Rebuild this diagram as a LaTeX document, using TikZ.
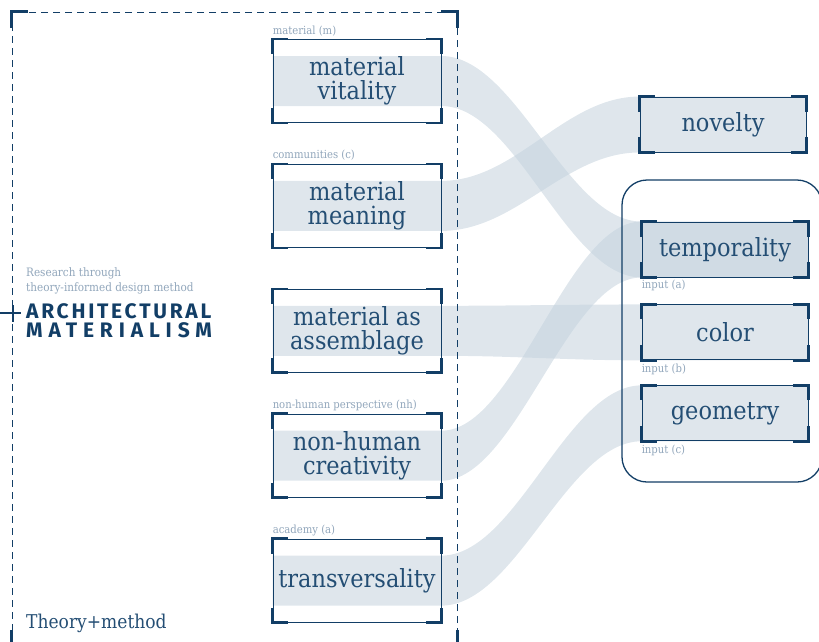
\documentclass[tikz,border=0pt]{standalone}
\usepackage{fontspec}
\newfontfamily\boxfont[FakeStretch=0.9]{DejaVu Serif}
\newfontfamily\headfont[LetterSpace=13]{Fira Sans}
\newfontfamily\headfontwide[LetterSpace=28]{Fira Sans}
\usetikzlibrary{positioning,backgrounds}

\definecolor{navy}{RGB}{18,62,102}
\definecolor{ink}{RGB}{36,78,116}
\definecolor{tagc}{RGB}{145,166,187}
\definecolor{bandc}{RGB}{196,210,221}

% corner marks of a box
\newcommand\brackets[2]{%
	\foreach \anc/\dx/\dy in {north west/1/-1,north east/-1/-1,south west/1/1,south east/-1/1}
		\draw [corner] ([xshift=\dx*#2]#1.\anc) -- (#1.\anc) -- ([yshift=\dy*#2]#1.\anc);}

% band from a concept to an outcome
\newcommand\flow[2]{%
	\fill [band] ([yshift=25pt]#1.west) -- ([yshift=25pt]#1.east)
		.. controls +(75,0) and +(-75,0) .. (#2.north west) -- (#2.north east)
		-- (#2.south east) -- (#2.south west)
		.. controls +(-75,0) and +(75,0) .. ([yshift=-25pt]#1.east)
		-- ([yshift=-25pt]#1.west) -- cycle;}

\begin{document}
\begin{tikzpicture}[x=1pt,y=-1pt,node distance=41pt]

	\tikzstyle{concept} = [rectangle, draw=navy, line width=0.9pt, minimum width=168pt, minimum height=83pt, inner sep=0pt, align=center, text=ink, font=\boxfont\fontsize{25}{24}\selectfont]
	\tikzstyle{outcome} = [concept, minimum width=166pt, minimum height=55pt]
	\tikzstyle{tag} = [anchor=base west, inner sep=0pt, text=tagc, font=\boxfont\fontsize{11.2}{12}\selectfont]
	\tikzstyle{corner} = [draw=navy, line width=2.6pt]
	\tikzstyle{band} = [fill=bandc, fill opacity=0.55]
	\tikzstyle{head} = [anchor=base west, inner sep=0pt, text=navy]

	\useasboundingbox (0,0) rectangle (819,641);
	\clip (0,0) rectangle (819,641);

	% theory column
	\node [rectangle, draw=navy, line width=0.9pt, dash pattern=on 7pt off 5pt, minimum width=445pt, minimum height=634pt] (theory) at (234.5,329) {};
	\brackets{theory}{16pt}
	\draw [navy, line width=2.4pt] (0,313) -- (21,313) (13,305) -- (13,322);

	\node [anchor=north west, inner sep=0pt, text=tagc, align=left, font=\boxfont\fontsize{11.6}{14.5}\selectfont] (method) at (26,267.5) {Research through\\theory-informed design method};
	\node [head, font=\headfont\bfseries\fontsize{21}{21}\selectfont] (arch) at (26,318) {ARCHITECTURAL};
	\node [head, font=\headfontwide\bfseries\fontsize{21}{21}\selectfont] (mat) at (26,337) {MATERIALISM};
	\node [head, text=ink, font=\boxfont\fontsize{19}{19}\selectfont] (theorylabel) at (26,628) {Theory+method};

	% concepts
	\node [concept] (vitality) at (357,81) {material\\vitality};
	\node [concept] (meaning) [below=of vitality] {material\\meaning};
	\node [concept] (assemblage) [below=of meaning] {material as\\assemblage};
	\node [concept] (creativity) [below=of assemblage] {non-human\\creativity};
	\node [concept] (transversality) [below=of creativity] {transversality};
	\foreach \n in {vitality,meaning,assemblage,creativity,transversality}
		\brackets{\n}{15pt};

	\node [tag] (tagm) at ([yshift=5pt]vitality.north west) {material (m)};
	\node [tag] (tagc) at ([yshift=5.5pt]meaning.north west) {communities (c)};
	\node [tag] (tagnh) at ([yshift=5.5pt]creativity.north west) {non-human perspective (nh)};
	\node [tag] (taga) at ([yshift=5.5pt]transversality.north west) {academy (a)};

	% outcomes
	\node [outcome] (novelty) at (723,124.5) {novelty};
	\node [outcome] (temporality) at (725,249.5) {temporality};
	\node [outcome] (color) [below=27pt of temporality] {color};
	\node [outcome] (geometry) [below=25pt of color] {geometry};
	\foreach \n in {novelty,temporality,color,geometry}
		\brackets{\n}{15pt};

	\node [tag] (ina) at ([yshift=-11pt]temporality.south west) {input (a)};
	\node [tag] (inb) at ([yshift=-12pt]color.south west) {input (b)};
	\node [tag] (inc) at ([yshift=-12pt]geometry.south west) {input (c)};

	\node [rectangle, draw=navy, line width=1.3pt, rounded corners=25pt, minimum width=200pt, minimum height=302pt] (inputs) at (722,331) {};

	\begin{pgfonlayer}{background}
		\flow{vitality}{temporality}
		\flow{meaning}{novelty}
		\flow{assemblage}{color}
		\flow{creativity}{temporality}
		\flow{transversality}{geometry}
	\end{pgfonlayer}
\end{tikzpicture}
\end{document}
